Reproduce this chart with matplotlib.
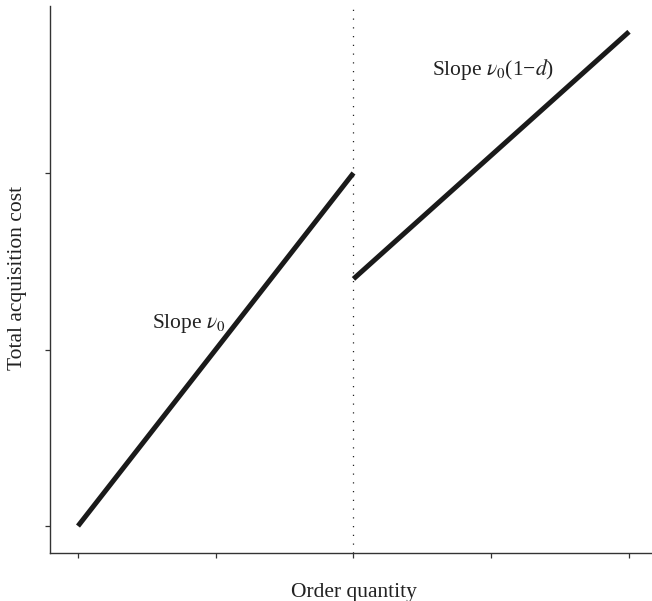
import matplotlib
matplotlib.use("Agg")
import matplotlib.pyplot as plt

# Data
x_ticks = [0, 1, 2, 3, 4]
y_ticks = [0, 1, 2]
seg1_x = [0, 2]
seg1_y = [0, 2]
seg2_x = [2, 4]
seg2_y = [1.4, 2.8]
breakpoint_x = 2

plt.rcParams['font.family'] = ['Liberation Serif', 'DejaVu Serif']
plt.rcParams['mathtext.fontset'] = 'stix'

fig = plt.figure(figsize=(6.52, 6.01), dpi=100)
ax = fig.add_axes([50.3 / 652, (601 - 552.7) / 601, 1 - 50.3 / 652, (552.7 - 6) / 601])

ax.plot(seg1_x, seg1_y, color='#1a1a1a', lw=3.6, solid_capstyle='butt')
ax.plot(seg2_x, seg2_y, color='#1a1a1a', lw=3.6, solid_capstyle='butt')
ax.axvline(breakpoint_x, color='#222222', lw=0.9, linestyle=(0, (1, 6)))

ax.set_xlim(-0.201, 4.167)
ax.set_ylim(-0.151, 2.946)
ax.set_xticks(x_ticks)
ax.set_yticks(y_ticks)
ax.set_xticklabels([])
ax.set_yticklabels([])
ax.tick_params(direction='out', length=3.6, width=0.9, color='#333333')
for s in ['top', 'right']:
    ax.spines[s].set_visible(False)
for s in ['left', 'bottom']:
    ax.spines[s].set_linewidth(1.0)
    ax.spines[s].set_color('#333333')

fs = 15.5
fig.text(354 / 652, 1 - 593 / 601, 'Order quantity', ha='center', va='center', fontsize=fs, color='#222222')
fig.text(18 / 652, 1 - 278 / 601, 'Total acquisition cost', ha='center', va='center', rotation=90, fontsize=fs, color='#222222')

ax.text(0.537, 1.122, r'Slope $\nu_0$', ha='left', va='baseline', fontsize=fs, color='#222222')
ax.text(2.57, 2.555, r'Slope $\nu_0$(1−$d$)', ha='left', va='baseline', fontsize=fs, color='#222222')

fig.savefig('out.png', dpi=100)
